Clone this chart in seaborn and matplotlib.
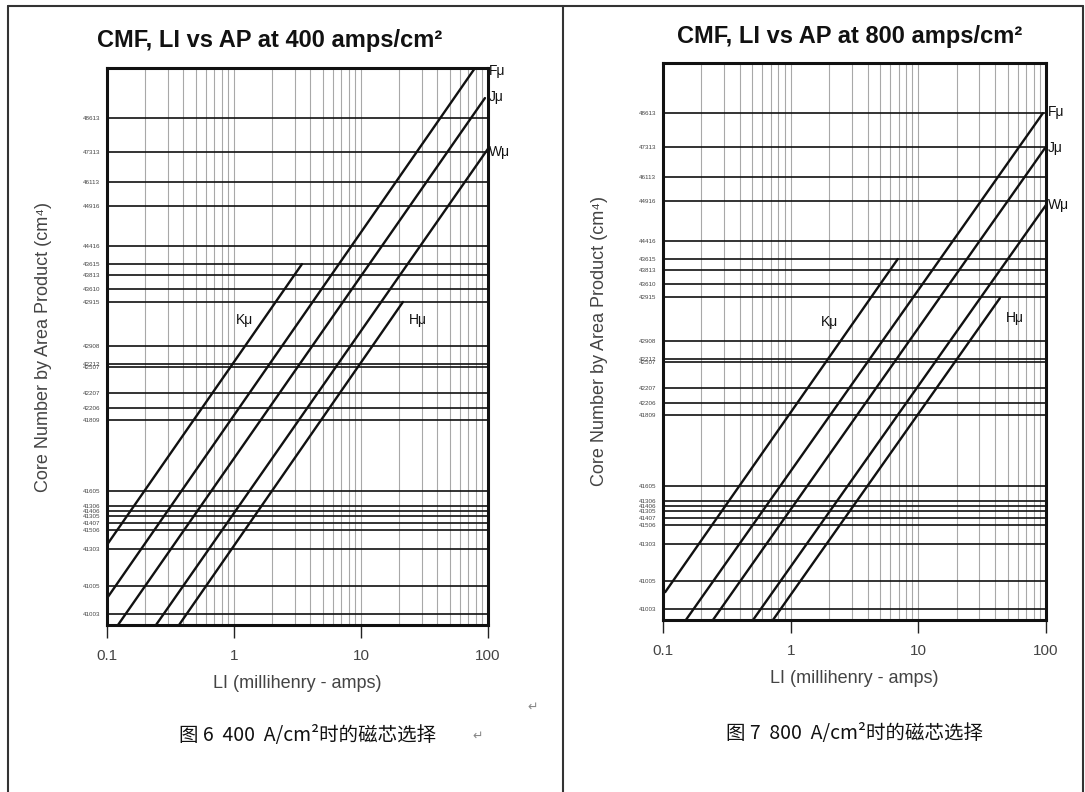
import numpy as np
import pandas as pd
import matplotlib
matplotlib.use("Agg")
import matplotlib.pyplot as plt
from matplotlib.lines import Line2D
from matplotlib.ticker import LogLocator, NullFormatter
import seaborn as sns

# core numbers up the side of each chart and their height (0 = bottom, 100 = top)
core_numbers = ["48613", "47313", "46113", "44916", "44416", "43615", "43813", "43610", "42915",
                "42908", "42212", "42507", "42207", "42206", "41809", "41605", "41306", "41406",
                "41305", "41407", "41506", "41303", "41005", "41003"]
core_pos = [91.0, 84.9, 79.5, 75.2, 68.0, 64.8, 62.8, 60.3, 58.0, 50.1, 46.9, 46.3, 41.7, 39.0,
            36.8, 24.1, 21.4, 20.5, 19.6, 18.3, 17.1, 13.6, 7.0, 2.0]

materials = ["Kμ", "Fμ", "Jμ", "Wμ", "Hμ"]

# 400 amps/cm2 : end points of each material line
li_start_400 = [0.1, 0.1, 0.122, 0.243, 0.369]
li_end_400 = [3.43, 79.0, 94.6, 100.0, 21.4]
pos_start_400 = [14.4, 4.8, 0.0, 0.0, 0.0]
pos_end_400 = [64.8, 100.0, 94.6, 85.5, 58.0]
label_li_400 = [1.22, 102, 102, 102, 28.1]
label_pos_400 = [54.8, 99.5, 94.8, 84.9, 54.8]

# 800 amps/cm2
li_start_800 = [0.104, 0.151, 0.246, 0.507, 0.726]
li_end_800 = [6.9, 94.6, 98.0, 100.0, 43.6]
pos_start_800 = [5.0, 0.0, 0.0, 0.0, 0.0]
pos_end_800 = [64.8, 91.0, 84.7, 74.5, 57.8]
label_li_800 = [2.03, 103, 103, 103, 57.0]
label_pos_800 = [53.5, 91.2, 84.7, 74.5, 54.2]

x_ticks = [0.1, 1, 10, 100]
x_tick_labels = ["0.1", "1", "10", "100"]

sns.set_style("white")
plt.rcParams["font.family"] = ["Liberation Sans", "DejaVu Sans"]
cjk = ["Noto Sans CJK SC", "DejaVu Sans"]


def draw_chart(ax, li_start, li_end, pos_start, pos_end, label_li, label_pos):
    # long table of line end points, one unit per material
    df = pd.DataFrame({
        "material": materials * 2,
        "li": li_start + li_end,
        "pos": pos_start + pos_end,
    })
    ax.set_xscale("log")
    ax.hlines(core_pos, 0.1, 100, color="#111111", lw=1.2, zorder=2)
    sns.lineplot(data=df, x="li", y="pos", units="material", estimator=None, sort=False,
                 color="#111111", lw=1.7, legend=False, ax=ax, zorder=3)

    ax.set_xlim(0.1, 100)
    ax.set_ylim(0, 100)
    ax.set_xticks(x_ticks)
    ax.set_xticklabels(x_tick_labels)
    ax.xaxis.set_minor_locator(LogLocator(base=10, subs=np.arange(2, 10)))
    ax.xaxis.set_minor_formatter(NullFormatter())
    ax.grid(axis="x", which="both", color="#a8a8a8", lw=0.8, zorder=1)
    ax.grid(axis="y", visible=False)

    ax.set_yticks(core_pos)
    ax.set_yticklabels(core_numbers)
    ax.tick_params(axis="x", which="major", length=9, width=1.0, direction="out",
                   pad=8, labelsize=11, labelcolor="#444444", color="#222222", bottom=True)
    ax.tick_params(axis="x", which="minor", length=0)
    ax.tick_params(axis="y", length=0, labelsize=4.5, pad=5, labelcolor="#444444")

    for sp in ax.spines.values():
        sp.set_linewidth(2.2)
        sp.set_color("#111111")

    ax.set_xlabel("LI (millihenry - amps)", fontsize=13, color="#444444", labelpad=9)
    ax.set_ylabel("Core Number by Area Product (cm⁴)", fontsize=13, color="#444444", labelpad=22)

    for name, lx, ly, in zip(materials, label_li, label_pos):
        outside = lx > 100
        ax.text(lx, ly, name, fontsize=10, color="#111111",
                ha="left" if outside else "center", va="center", clip_on=False)


fig = plt.figure(figsize=(10.85, 7.92), dpi=100)
ax1 = fig.add_axes([107 / 1085, 1 - 625 / 792, 381 / 1085, 557 / 792])
ax2 = fig.add_axes([663 / 1085, 1 - 620 / 792, 383 / 1085, 557 / 792])

draw_chart(ax1, li_start_400, li_end_400, pos_start_400, pos_end_400, label_li_400, label_pos_400)
draw_chart(ax2, li_start_800, li_end_800, pos_start_800, pos_end_800, label_li_800, label_pos_800)

fig.text(270 / 1085, 1 - 40 / 792, "CMF, LI vs AP at 400 amps/cm²", fontsize=17,
         fontweight="bold", color="#111111", ha="center", va="center")
fig.text(850 / 1085, 1 - 37 / 792, "CMF, LI vs AP at 800 amps/cm²", fontsize=17,
         fontweight="bold", color="#111111", ha="center", va="center")

fig.text(308 / 1085, 1 - 735 / 792, "图 6  400  A/cm²时的磁芯选择", family=cjk, fontsize=14,
         color="#111111", ha="center", va="center")
fig.text(855 / 1085, 1 - 733 / 792, "图 7  800  A/cm²时的磁芯选择", family=cjk, fontsize=14,
         color="#111111", ha="center", va="center")
fig.text(478 / 1085, 1 - 736 / 792, "↵", family=["DejaVu Sans"], fontsize=9, color="#888888",
         ha="center", va="center")
fig.text(533 / 1085, 1 - 707 / 792, "↵", family=["DejaVu Sans"], fontsize=9, color="#888888",
         ha="center", va="center")

# table cell borders of the document page
for xs, ys in [([8, 8], [6, 792]), ([8, 1083], [6, 6]), ([563, 563], [6, 792]),
               ([1083, 1083], [6, 792])]:
    fig.add_artist(Line2D([x / 1085 for x in xs], [1 - y / 792 for y in ys],
                          transform=fig.transFigure, color="#333333", lw=1.5))

fig.savefig("out.png", dpi=100)
